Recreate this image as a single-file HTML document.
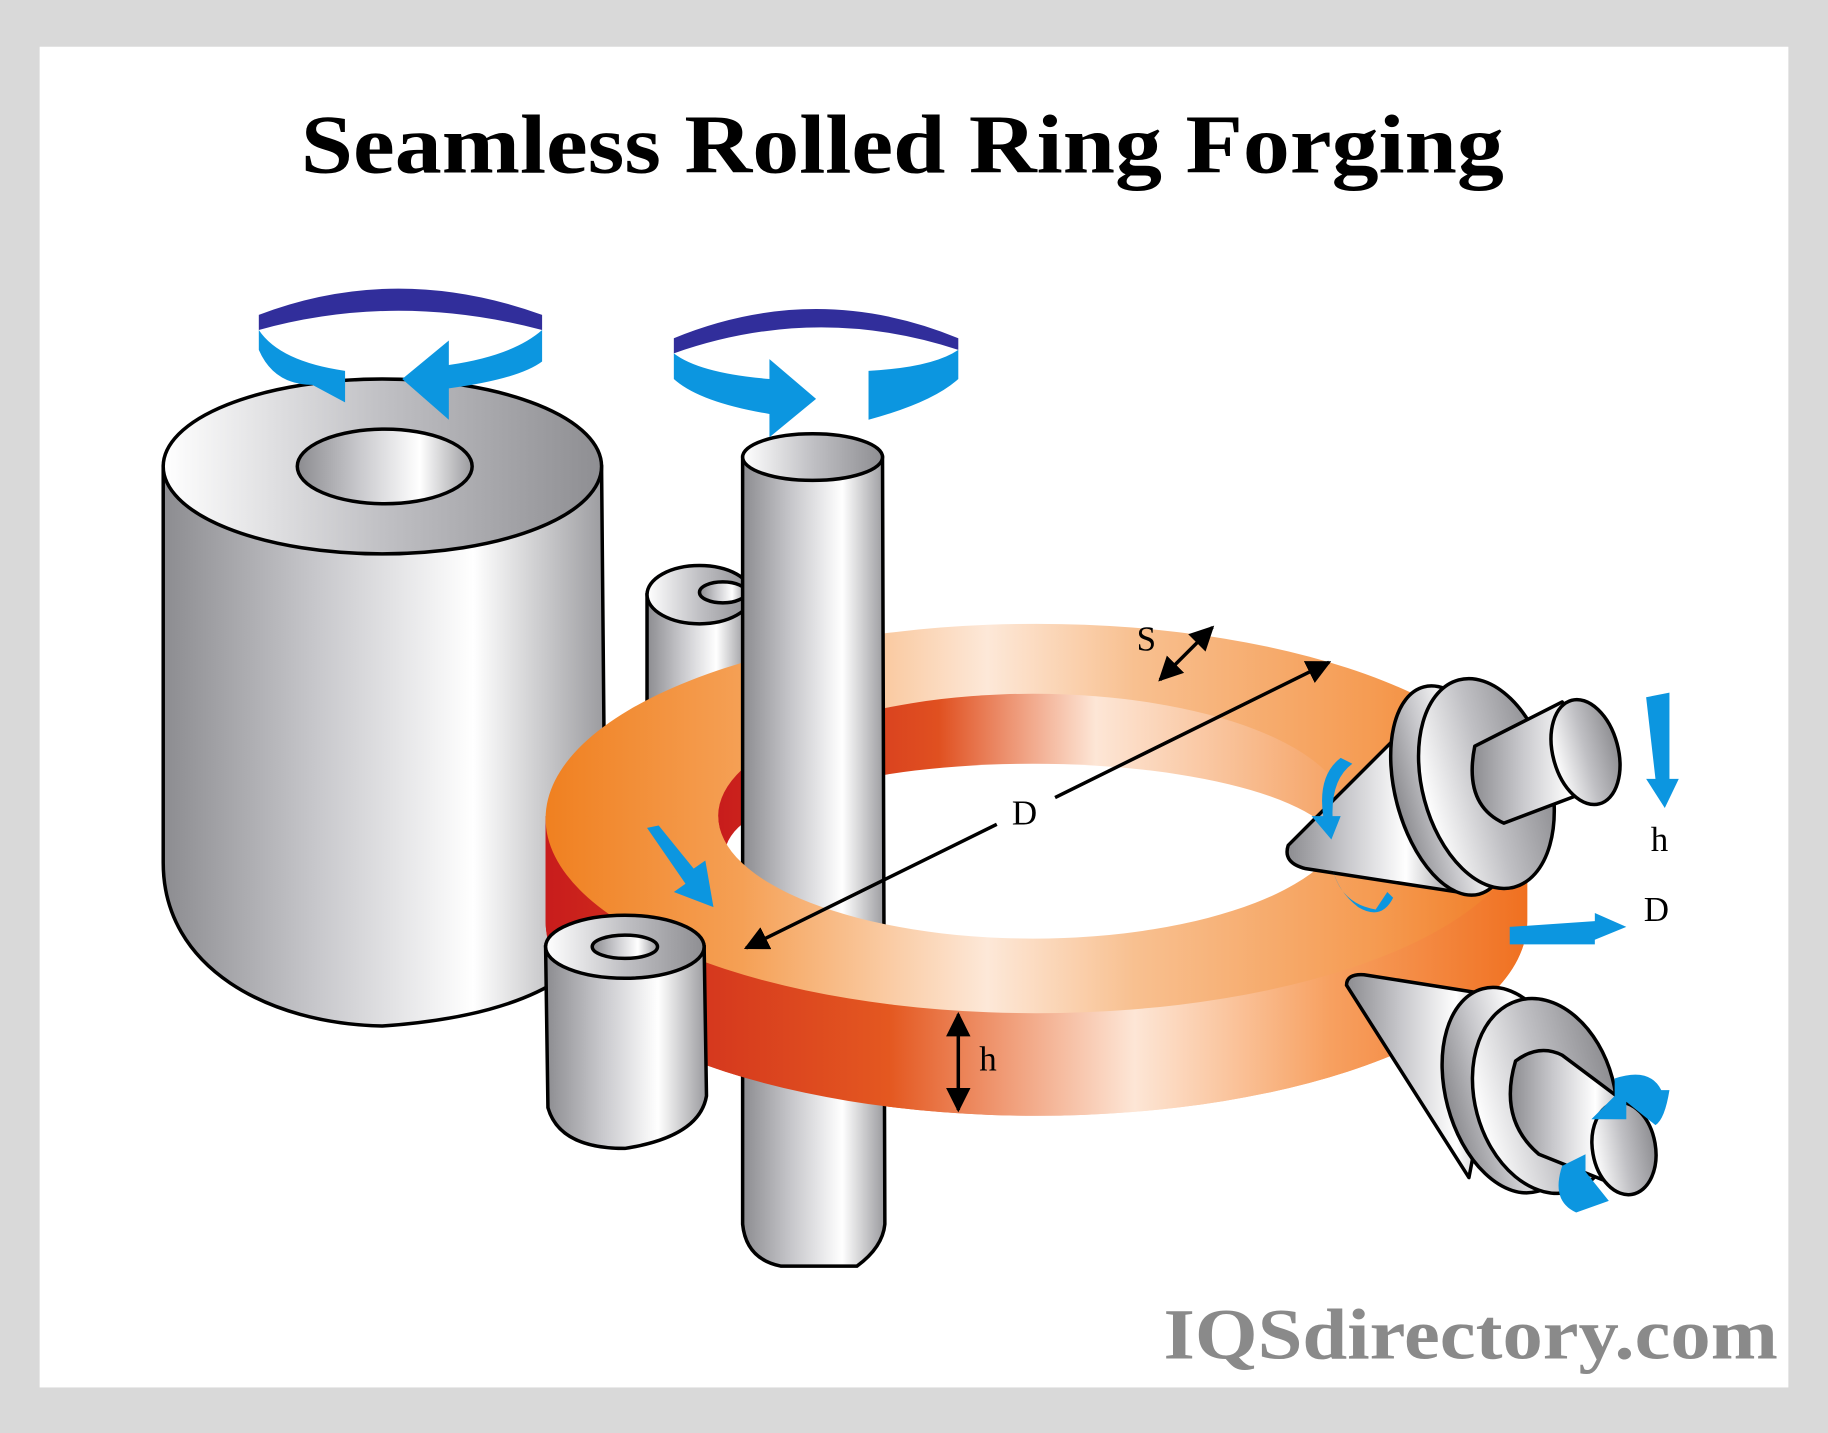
<!DOCTYPE html>
<html><head><meta charset="utf-8"><style>html,body{margin:0;padding:0;background:#d9d9d9}svg{display:block}</style></head>
<body>
<svg width="1828" height="1433" viewBox="0 0 1568 1229" xmlns="http://www.w3.org/2000/svg">
<defs>
<linearGradient id="metal" x1="0" x2="1" y1="0" y2="0">
<stop offset="0" stop-color="#8c8c90"/><stop offset="0.35" stop-color="#c8c8cc"/><stop offset="0.7" stop-color="#ffffff"/><stop offset="1" stop-color="#9a9a9e"/></linearGradient>
<linearGradient id="metal2" x1="0" x2="1" y1="0" y2="0">
<stop offset="0" stop-color="#ffffff"/><stop offset="0.5" stop-color="#c0c0c4"/><stop offset="1" stop-color="#8e8e92"/></linearGradient>
<linearGradient id="ringtop" x1="0" x2="1">
<stop offset="0" stop-color="#f08020"/><stop offset="0.2" stop-color="#f5a055"/><stop offset="0.45" stop-color="#fde8d8"/><stop offset="0.6" stop-color="#f8c090"/><stop offset="0.85" stop-color="#f59a50"/><stop offset="1" stop-color="#f07820"/></linearGradient>
<linearGradient id="ringside" x1="0" x2="1">
<stop offset="0" stop-color="#c81c1c"/><stop offset="0.35" stop-color="#e45820"/><stop offset="0.6" stop-color="#fde6d6"/><stop offset="0.8" stop-color="#f7a060"/><stop offset="1" stop-color="#f07020"/></linearGradient>
<linearGradient id="ringinner" x1="0" x2="1">
<stop offset="0" stop-color="#c81c1c"/><stop offset="0.35" stop-color="#e05020"/><stop offset="0.6" stop-color="#fde6d6"/><stop offset="1" stop-color="#f5a060"/></linearGradient>
<mask id="front"><rect x="0" y="0" width="1568" height="1229" fill="black"/><rect x="0" y="700" width="1568" height="400" fill="white"/><ellipse cx="886" cy="700" rx="270" ry="105" fill="black"/></mask>
<marker id="ah" viewBox="0 0 10 10" refX="9" refY="5" markerWidth="7" markerHeight="7" orient="auto-start-reverse"><path d="M0,0 L10,5 L0,10 Z" fill="#000"/></marker>
</defs>
<rect width="1568" height="1229" fill="#d9d9d9"/>
<rect x="34" y="40" width="1500" height="1150" fill="#fff"/>
<text x="258" y="148" textLength="1032" lengthAdjust="spacingAndGlyphs" font-family="Liberation Serif, serif" font-weight="bold" font-size="72">Seamless Rolled Ring Forging</text>
<text x="998" y="1165" textLength="527" lengthAdjust="spacingAndGlyphs" font-family="Liberation Serif, serif" font-weight="bold" font-size="62" fill="#8a8a8a">IQSdirectory.com</text>

<g stroke="#000" stroke-width="3">
<path d="M140,400 L140,740 C140,830 230,878 328,880 C400,875 450,860 480,840 L520,840 L516,400 Z" fill="url(#metal)"/>
<ellipse cx="328" cy="400" rx="188" ry="75" fill="url(#metal2)"/>
<ellipse cx="330" cy="400" rx="75" ry="32" fill="url(#metal)"/>
<path d="M555,510 L555,610 L640,610 L640,510 Z" fill="url(#metal)"/>
<ellipse cx="600" cy="510" rx="45" ry="25" fill="url(#metal2)"/>
<ellipse cx="620" cy="508" rx="20" ry="9" fill="url(#metal)"/>
</g>
<g stroke="none">
<path d="M468,700 L468,790 A421,167 0 0 0 1310,790 L1310,700 Z" fill="url(#ringside)"/>
<ellipse cx="889" cy="702" rx="421" ry="167" fill="url(#ringtop)"/>
<ellipse cx="886" cy="700" rx="270" ry="105" fill="url(#ringinner)"/>
<ellipse cx="886" cy="732" rx="264" ry="77" fill="#fff"/>
</g>
<g stroke="#000" stroke-width="3">
<path d="M637,392 L637,1050 Q640,1080 670,1086 L735,1086 Q757,1070 759,1050 L757,392 Z" fill="url(#metal)"/>
<ellipse cx="697" cy="392" rx="60" ry="20" fill="url(#metal2)"/>
<path d="M640,757 Q690,795 760,808" fill="none"/>
</g>
<g mask="url(#front)">
<path d="M468,700 L468,790 A421,167 0 0 0 1310,790 L1310,700 Z" fill="url(#ringside)"/>
<ellipse cx="889" cy="702" rx="421" ry="167" fill="url(#ringtop)"/>
</g>
<g stroke="#000" stroke-width="3">
<path d="M468,812 L470,950 Q480,985 536,985 Q600,975 606,940 L604,812 Z" fill="url(#metal)"/>
<ellipse cx="536" cy="812" rx="68" ry="27" fill="url(#metal2)"/>
<ellipse cx="536" cy="812" rx="28" ry="10" fill="url(#metal)"/>
</g>
<g stroke="#000" stroke-width="3" stroke-linejoin="round">
<path d="M1105,725 L1215,615 L1250,765 L1120,745 Q1100,740 1105,725 Z" fill="url(#metal)"/>
<ellipse cx="1245" cy="678" rx="48" ry="92" transform="rotate(-15 1245 678)" fill="url(#metal)"/>
<ellipse cx="1275" cy="672" rx="55" ry="92" transform="rotate(-15 1275 672)" fill="url(#metal2)"/>
<path d="M1265,640 L1340,602 L1385,670 L1290,706 Q1255,690 1265,640 Z" fill="url(#metal)"/>
<ellipse cx="1360" cy="645" rx="28" ry="46" transform="rotate(-15 1360 645)" fill="url(#metal2)"/>
</g>
<g stroke="#000" stroke-width="3" stroke-linejoin="round">
<path d="M1155,845 Q1155,835 1170,836 L1290,855 L1260,1010 Z" fill="url(#metal)"/>
<ellipse cx="1295" cy="935" rx="55" ry="90" transform="rotate(-15 1295 935)" fill="url(#metal)"/>
<ellipse cx="1325" cy="940" rx="60" ry="85" transform="rotate(-15 1325 940)" fill="url(#metal2)"/>
<path d="M1300,910 Q1320,895 1340,905 L1400,950 L1395,1020 L1320,990 Q1285,960 1300,910 Z" fill="url(#metal)"/>
<ellipse cx="1393" cy="985" rx="27" ry="40" transform="rotate(-10 1393 985)" fill="url(#metal2)"/>
</g>
<path d="M222,270 Q340,225 465,270 L465,283 Q340,250 222,283 Z" fill="#312e9b"/>
<path d="M222,283 L222,300 Q235,330 268,330 L296,345 L296,318 Q240,310 222,283 Z" fill="#0c96e0"/>
<path d="M465,283 L465,310 Q445,325 385,333 L385,360 L345,325 L385,292 L385,313 Q440,305 465,283 Z" fill="#0c96e0"/>
<path d="M578,290 Q700,240 822,290 L822,300 Q700,260 578,303 Z" fill="#312e9b"/>
<path d="M578,303 L578,325 Q600,345 660,355 L660,375 L700,342 L660,308 L660,325 Q600,320 578,303 Z" fill="#0c96e0"/>
<path d="M822,300 L822,325 Q800,345 745,360 L745,318 Q800,315 822,300 Z" fill="#0c96e0"/>
<path d="M555,710 L565,708 L595,745 L605,738 L612,778 L578,765 L588,758 Z" fill="#0c96e0"/>
<path d="M1150,650 Q1130,665 1135,700 L1125,700 L1142,720 L1150,700 L1143,700 Q1142,668 1160,655 Z" fill="#0c96e0"/>
<path d="M1143,745 Q1150,775 1180,780 L1190,765 L1195,770 Q1185,790 1165,778 Q1148,765 1143,745 Z" fill="#0c96e0"/>
<path d="M1412,598 L1432,594 L1432,668 L1440,668 L1428,693 L1412,668 L1420,668 Z" fill="#0c96e0"/>
<path d="M1295,795 L1368,790 L1368,783 L1395,795 L1368,806 L1368,810 L1295,810 Z" fill="#0c96e0"/>
<path d="M1385,925 Q1415,915 1425,935 L1432,935 Q1428,960 1420,965 L1395,945 L1395,960 L1365,960 L1385,940 Z" fill="#0c96e0"/>
<path d="M1340,1000 Q1330,1030 1352,1040 L1380,1030 L1360,1005 L1360,990 Z" fill="#0c96e0"/>
<g stroke="#000" stroke-width="3" fill="none">
<line x1="640" y1="813" x2="855" y2="707" marker-start="url(#ah)"/>
<line x1="905" y1="684" x2="1140" y2="568" marker-end="url(#ah)"/>
<line x1="995" y1="583" x2="1040" y2="538" marker-start="url(#ah)" marker-end="url(#ah)"/>
<line x1="822" y1="870" x2="822" y2="952" marker-start="url(#ah)" marker-end="url(#ah)"/>
</g>
<g font-family="Liberation Serif, serif" font-size="30" fill="#000">
<text x="868" y="707">D</text>
<text x="975" y="558">S</text>
<text x="840" y="918">h</text>
<text x="1416" y="730">h</text>
<text x="1410" y="790">D</text>
</g>
</svg>
</body></html>
